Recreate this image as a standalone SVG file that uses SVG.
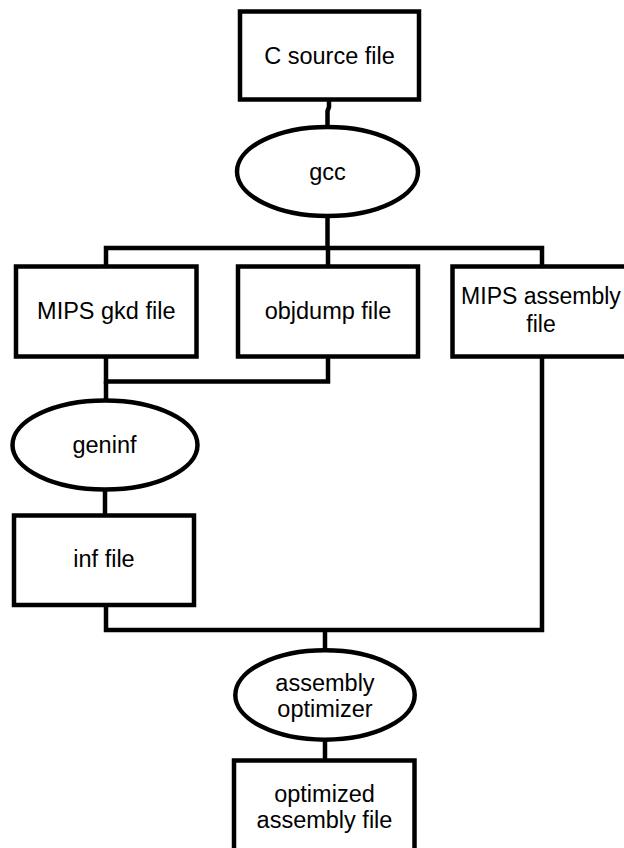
<svg xmlns="http://www.w3.org/2000/svg" width="624" height="848" viewBox="0 0 624 848">
<style>
.box{fill:#fff;stroke:#000;stroke-width:4.5}
.ell{fill:#fff;stroke:#000;stroke-width:4.5}
.conn{fill:none;stroke:#000;stroke-width:4.5;stroke-linejoin:miter}
text{font-family:"Liberation Sans",Arial,sans-serif;font-size:23.5px;fill:#000;text-anchor:middle}
.sm{font-size:23px}
</style>
<rect width="624" height="848" fill="#fff"/>
<g id="connectors">
<path class="conn" d="M329,100 L329,107 L327.5,111 L327.5,128"/>
<path class="conn" d="M327.5,215 L327.5,248"/>
<path class="conn" d="M106,266 L106,248 L542,248 L542,266"/>
<path class="conn" d="M328,248 L328,266"/>
<path class="conn" d="M106,357 L106,381.5 L328,381.5 L328,357"/>
<path class="conn" d="M106,381.5 L106,401"/>
<path class="conn" d="M105,489 L105,515"/>
<path class="conn" d="M106,605 L106,630 L542,630 L542,357"/>
<path class="conn" d="M325,630 L325,651"/>
<path class="conn" d="M325,739 L325,760"/>
</g>
<g id="c_source">
<rect class="box" x="240" y="11.5" width="179" height="88"/>
<text x="329.5" y="64">C source file</text>
</g>
<g id="gcc">
<ellipse class="ell" cx="327.5" cy="171.5" rx="90.5" ry="44.5"/>
<text x="327.5" y="180">gcc</text>
</g>
<g id="mips_gkd">
<rect class="box" x="16" y="266.5" width="180.5" height="90"/>
<text x="106.3" y="319">MIPS gkd file</text>
</g>
<g id="objdump">
<rect class="box" x="238" y="266.5" width="180" height="90"/>
<text x="328" y="319">objdump file</text>
</g>
<g id="mips_asm">
<rect class="box" x="452.5" y="266.5" width="180" height="90"/>
<text class="sm" x="541" y="304">MIPS assembly</text>
<text class="sm" x="541" y="332">file</text>
</g>
<g id="geninf">
<ellipse class="ell" cx="105" cy="445" rx="92.5" ry="44.5"/>
<text x="104.5" y="453">geninf</text>
</g>
<g id="inf_file">
<rect class="box" x="14" y="515.5" width="180" height="89.5"/>
<text x="104" y="567">inf file</text>
</g>
<g id="asm_opt">
<ellipse class="ell" cx="325" cy="695" rx="89.7" ry="44.7"/>
<text x="325" y="691">assembly</text>
<text x="325" y="717">optimizer</text>
</g>
<g id="opt_asm">
<rect class="box" x="234" y="760.5" width="180.5" height="100"/>
<text x="324.5" y="802">optimized</text>
<text x="324.5" y="828">assembly file</text>
</g>
</svg>
